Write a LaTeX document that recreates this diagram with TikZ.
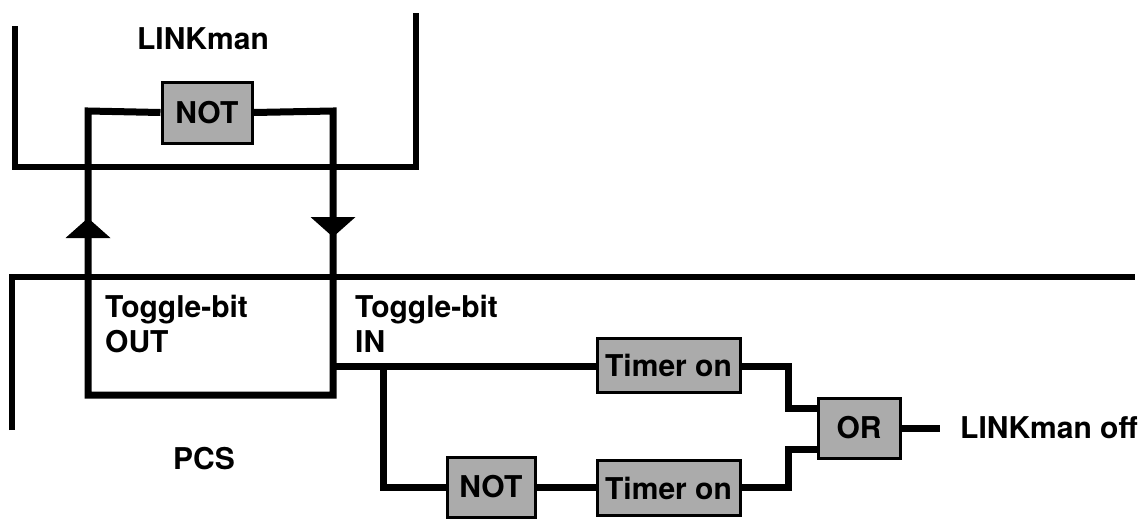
\documentclass[tikz,border=0pt]{standalone}
\usepackage{fontspec}
\setmainfont{TeX Gyre Heros}
\begin{document}
\begin{tikzpicture}[x=1pt,y=-1pt,
  wire/.style={line width=7pt,line join=miter,line cap=butt},
  frame/.style={line width=6.5pt,line join=miter},
  gate/.style={draw=black,line width=3pt,fill=black!33,inner sep=0pt,
    font=\fontsize{30}{34}\selectfont\bfseries},
  lbl/.style={inner sep=0pt,font=\fontsize{30}{35}\selectfont\bfseries,align=left},
  tip/.style={fill=black}]
\useasboundingbox (0,0) rectangle (1145,520);
% LINKman frame
\coordinate (lmtl) at (15,26);
\coordinate (lmbl) at (15,167);
\coordinate (lmbr) at (416,167);
\coordinate (lmtr) at (416,13);
\draw[frame] (lmtl) -- (lmbl) -- (lmbr) -- (lmtr);
\node[lbl] (linkman) at (203,39) {LINKman};
% PCS frame
\coordinate (pcsb) at (12,430);
\coordinate (pcsc) at (12,277);
\coordinate (pcsr) at (1135,277);
\draw[frame] (pcsb) -- (pcsc) -- (pcsr);
\node[lbl] (pcs) at (204,459) {PCS};
% gates
\node[gate,minimum width=90pt,minimum height=61pt] (not1) at (207,112.5) {NOT};
\node[gate,minimum width=143pt,minimum height=54pt] (timer1) at (668.5,365) {Timer on};
\node[gate,minimum width=143pt,minimum height=55pt] (timer2) at (668.5,488) {Timer on};
\node[gate,minimum width=88pt,minimum height=60pt] (not2) at (491,487) {NOT};
\node[gate,minimum width=82pt,minimum height=60pt] (or) at (859,428) {OR};
% toggle loop
\coordinate (ltop) at (88,111);
\coordinate (lbot) at (88,395);
\coordinate (rbot) at (333,395);
\coordinate (rtop) at (333,111);
\coordinate (tout) at (333,366);
\coordinate (branch) at (383,366);
\draw[wire] (not1.west) -- (ltop) -- (lbot) -- (rbot) -- (rtop) -- (not1.east);
% arrowheads on the loop
\fill[tip] (65.5,238) -- (88,218) -- (110.5,238) -- cycle;
\fill[tip] (310.5,217) -- (333,237) -- (355.5,217) -- cycle;
% labels
\node[lbl,anchor=north west] (tbout) at (105,295) {Toggle-bit\\OUT};
\node[lbl,anchor=north west] (tbin) at (355,295) {Toggle-bit\\IN};
% logic wiring
\draw[wire] (tout) -- (timer1.west |- tout);
\draw[wire] (branch) |- (not2.west);
\draw[wire] (not2.east) -- (timer2.west |- not2.east);
\coordinate (j1) at (788,366);
\coordinate (j2) at (788,408);
\coordinate (j3) at (788,449);
\coordinate (j4) at (788,487);
\draw[wire] (timer1.east |- j1) -- (j1) -- (j2) -- (or.west |- j2);
\draw[wire] (timer2.east |- j4) -- (j4) -- (j3) -- (or.west |- j3);
\coordinate (outend) at (940,428);
\draw[wire] (or.east) -- (outend);
\node[lbl,anchor=west] (lmoff) at (960,428) {LINKman off};
\end{tikzpicture}
\end{document}
